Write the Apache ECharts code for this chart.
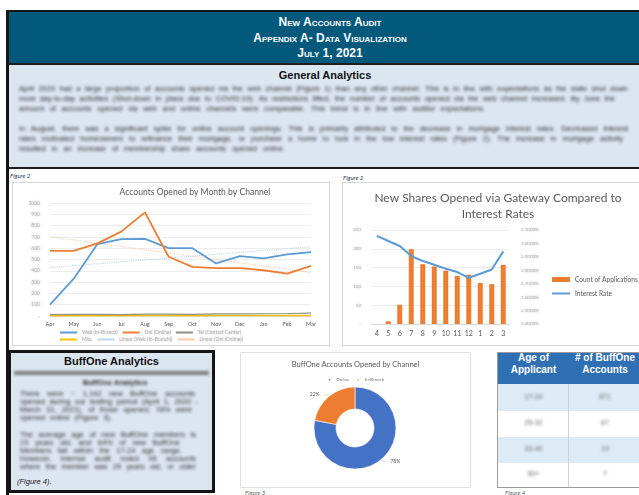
<!DOCTYPE html>
<html><head><meta charset="utf-8">
<script src="https://cdn.jsdelivr.net/npm/echarts@6/dist/echarts.min.js"></script>
<style>
html,body{margin:0;padding:0;background:#fff;width:639px;height:495px;overflow:hidden;font-family:"Liberation Sans",Arial,sans-serif;}
.a{position:absolute;}
.hdr{left:9px;width:642px;text-align:center;color:#fff;font-weight:bold;font-size:12px;font-variant:small-caps;line-height:13px;}
.blur{filter:blur(1.5px);color:#2a2a2a;font-size:7.5px;line-height:8px;text-align:justify;text-align-last:justify;overflow:hidden;white-space:nowrap;}
.blurL{filter:blur(1.5px);color:#2a2a2a;font-size:7.5px;line-height:8px;white-space:nowrap;overflow:hidden;}
.fig{font-style:italic;font-size:6px;color:#2b3550;font-family:"Lato",sans-serif;}
.box{border:1.5px solid #d6d6d6;box-sizing:border-box;background:#fff;}
</style></head><body>
<div class="a" style="left:6px;top:10px;width:633px;height:2px;background:#151515"></div>
<div class="a" style="left:6px;top:10px;width:3px;height:485px;background:#151515"></div>
<div class="a" style="left:9px;top:12px;width:630px;height:51px;background:#02597C"></div>
<div class="a hdr" style="top:16px">New Accounts Audit</div>
<div class="a hdr" style="top:32px">Appendix A- Data Visualization</div>
<div class="a hdr" style="top:47px">July 1, 2021</div>
<div class="a" style="left:9px;top:63px;width:630px;height:2px;background:#1e1e1e"></div>
<div class="a" style="left:9px;top:65px;width:630px;height:102px;background:#DCE6F1"></div>
<div class="a" style="left:9px;top:167px;width:630px;height:2px;background:#1e1e1e"></div>
<div class="a" style="left:9px;top:69px;width:632px;text-align:center;font-weight:bold;font-size:11px;color:#111">General Analytics</div>
<div class="a blur" style="left:19px;top:85px;width:609px">April 2020 had a large proportion of accounts opened via the web channel (Figure 1) than any other channel. This is in line with expectations as the state shut down</div>
<div class="a blur" style="left:19px;top:95px;width:596px">most day-to-day activities (Shut-down in place due to COVID-19). As restrictions lifted, the number of accounts opened via the web channel increased. By June the</div>
<div class="a blur" style="left:19px;top:105px;width:466px">amount of accounts opened via web and online channels were comparable. This trend is in line with auditor expectations.</div>
<div class="a blur" style="left:19px;top:125px;width:609px">In August, there was a significant spike for online account openings. This is primarily attributed to the decrease in mortgage interest rates. Decreased interest</div>
<div class="a blur" style="left:19px;top:135px;width:604px">rates motivated homeowners to refinance their mortgage, or purchase a home to lock in the low interest rates (Figure 2). The increase in mortgage activity</div>
<div class="a blur" style="left:19px;top:145px;width:266px">resulted in an increase of membership share accounts opened online.</div>

<div class="a fig" style="left:10px;top:172px">Figure 2</div>
<div class="a fig" style="left:343px;top:174px">Figure 2</div>
<div class="a box" style="left:12px;top:182px;width:318px;height:164px"></div>
<div class="a box" style="left:342px;top:182px;width:300px;height:164px"></div>
<div id="c1" class="a" style="left:12px;top:182px;width:318px;height:164px"></div>
<div id="c2" class="a" style="left:342px;top:182px;width:297px;height:164px"></div>

<div class="a" style="left:8px;top:350px;width:207px;height:143px;box-sizing:border-box;border:3px solid #151515;background:#DCE6F1"></div>
<div class="a" style="left:8px;top:355px;width:207px;text-align:center;font-weight:bold;font-size:11px;color:#111">BuffOne Analytics</div>
<div class="a" style="left:14px;top:371px;width:195px;height:4px;background:#7a7a7a;filter:blur(1.4px)"></div>
<div class="a blurL" style="left:55px;top:379px;width:120px;font-weight:bold;text-align:center">BuffOne Analytics</div>
<div class="a blur" style="left:20px;top:390px;width:175px">There were ~ 1,142 new BuffOne accounts</div>
<div class="a blur" style="left:20px;top:398px;width:178px">opened during our testing period (April 1, 2020 -</div>
<div class="a blur" style="left:20px;top:406px;width:172px">March 31, 2021), of those opened, 78% were</div>
<div class="a blur" style="left:20px;top:414px;width:92px">opened online (Figure 3).</div>
<div class="a blur" style="left:20px;top:431px;width:176px">The average age of new BuffOne members is</div>
<div class="a blur" style="left:20px;top:439px;width:160px">23 years old, and 64% of new BuffOne</div>
<div class="a blur" style="left:20px;top:447px;width:162px">Members fall within the 17-24 age range.</div>
<div class="a blur" style="left:20px;top:455px;width:176px">However, internal audit noted 45 accounts</div>
<div class="a blur" style="left:20px;top:463px;width:176px">where the member was 25 years old, or older</div>
<div class="a" style="left:17px;top:477px;font-size:7.5px;color:#222"><i>(Figure 4)</i>.</div>

<div class="a" style="left:240px;top:352px;width:231px;height:136px;border:1px solid #e2e2e2;box-sizing:border-box"></div>
<div id="c3" class="a" style="left:240px;top:352px;width:231px;height:136px"></div>
<div class="a fig" style="left:245px;top:489px;color:#666">Figure 3</div>

<div class="a" style="left:497px;top:352px;width:150px;height:136px;border:1px solid #9a9a9a;box-sizing:border-box;overflow:hidden">
  <div class="a" style="left:0;top:0;width:150px;height:31px;background:#2F6FB3"></div>
  <div class="a" style="left:0;top:-1px;width:71px;text-align:center;color:#fff;font-weight:bold;font-size:10px;line-height:12px">Age of<br>Applicant</div>
  <div class="a" style="left:71px;top:-1px;width:72px;text-align:center;color:#fff;font-weight:bold;font-size:10px;line-height:12px"># of BuffOne<br>Accounts</div>
  <div class="a" style="left:0;top:31px;width:150px;height:27px;background:#DDEBF7"></div>
  <div class="a" style="left:0;top:84px;width:150px;height:26px;background:#DDEBF7"></div>
  <div class="a" style="left:70px;top:31px;width:1px;height:105px;background:#c9d3de"></div>
  <div class="a blurL" id="tbl" style="left:0;top:0;width:150px;height:136px;color:#666;font-size:7px"></div>
</div>
<div class="a fig" style="left:505px;top:489px;color:#666">Figure 4</div>

<script>
// ---- Chart 1 data ----
const months = ['Apr','May','Jun','Jul','Aug','Sep','Oct','Nov','Dec','Jan','Feb','Mar'];
const webInBranch = [100,330,637,680,682,600,600,465,530,510,545,565];
const onlOnline = [577,577,643,747,917,524,435,423,423,405,375,443];
const telContact = [12,14,15,13,17,16,14,18,19,20,22,26];
const miscChannel = [3,3,4,3,4,4,3,4,4,4,5,5];
const trendWeb = [429,null,null,null,null,null,null,null,null,null,null,613];
const trendOnl = [702,null,null,null,null,null,null,null,null,null,null,384];
const seriesNames1 = ['Web (In-Branch)','Onl (Online)','Tel (Contact Center)','Misc','Linear (Web (In-Branch))','Linear (Onl (Online))'];
// ---- Chart 2 data ----
const monthNums = ['4','5','6','7','8','9','10','11','12','1','2','3'];
const applications = [0,7,51,199,159,153,142,128,131,109,106,157];
const interestRate = [3.056,3.018,2.981,2.906,2.869,2.841,2.811,2.787,2.744,2.774,2.806,2.941];
// ---- Chart 3 data ----
const channels = ['Online','In-Branch'];
const channelCounts = [78,22];
// ---- Table data ----
const ageGroups = ['17-24','25-32','33-40','50+'];
const ageCounts = ['871','67','19','7'];

const tbl = document.getElementById('tbl');
const rowTops=[40,66,92,117];
ageGroups.forEach((g,i)=>{
  tbl.insertAdjacentHTML('beforeend','<div class="a" style="left:0;width:71px;text-align:center;top:'+rowTops[i]+'px">'+g+'</div><div class="a" style="left:71px;width:72px;text-align:center;top:'+rowTops[i]+'px">'+ageCounts[i]+'</div>');
});

const FF = 'Lato, "Open Sans", sans-serif';
const blurTxt = {color:'#b4b4b4', textShadowColor:'#b4b4b4', textShadowBlur:3};

const c1 = echarts.init(document.getElementById('c1'));
const lineS = (name,data,color,w,extra)=>Object.assign({name,type:'line',data,symbol:'none',showSymbol:false,
  lineStyle:{color,width:w},itemStyle:{color}},extra||{});
const legTxt1 = Object.assign({fontSize:5,width:63,overflow:'truncate',fontFamily:FF},blurTxt);
c1.setOption({
  animation:false,
  textStyle:{fontFamily:FF},
  title:{text:'Accounts Opened by Month by Channel',left:178,textAlign:'center',top:1,
    textStyle:{fontSize:8.6,fontWeight:'normal',color:'#595959',fontFamily:FF}},
  grid:{left:38,right:19,top:21,bottom:30},
  xAxis:{type:'category',data:months,boundaryGap:false,
    axisLine:{lineStyle:{color:'#d9d9d9'}},axisTick:{show:false},
    axisLabel:{fontSize:5.5,color:'#595959',margin:5,fontFamily:FF}},
  yAxis:{type:'value',min:0,max:1000,interval:100,
    axisLine:{show:false},axisTick:{show:false},
    splitLine:{lineStyle:{color:'#e8e8e8',width:0.8}},
    axisLabel:Object.assign({fontSize:5,margin:10,fontFamily:FF,formatter:v=>v===0?'-':String(v)},blurTxt)},
  legend:[
    {data:seriesNames1.slice(0,3),icon:'rect',left:43,top:143,itemWidth:17,itemHeight:2,itemGap:5,textStyle:legTxt1},
    {data:seriesNames1.slice(3),icon:'rect',left:43,top:150,itemWidth:17,itemHeight:2,itemGap:5,textStyle:legTxt1}
  ],
  series:[
    lineS(seriesNames1[3],miscChannel,'#FFC000',1.6),
    lineS(seriesNames1[2],telContact,'#8f8f86',1.2),
    lineS(seriesNames1[4],trendWeb,'#BDD7EE',1.1,{connectNulls:true,lineStyle:{color:'#BDD7EE',width:1.1,type:'dotted'}}),
    lineS(seriesNames1[5],trendOnl,'#F8CBAD',1.1,{connectNulls:true,lineStyle:{color:'#F8CBAD',width:1.1,type:'dotted'}}),
    lineS(seriesNames1[0],webInBranch,'#5B9BD5',1.8),
    lineS(seriesNames1[1],onlOnline,'#ED7D31',1.8)
  ]
});

const c2 = echarts.init(document.getElementById('c2'));
const legTxt2 = {fontSize:6.6,color:'#595959',fontFamily:FF};
c2.setOption({
  animation:false,
  textStyle:{fontFamily:FF},
  title:{text:'New Shares Opened via Gateway Compared to\nInterest Rates',left:151,textAlign:'center',top:3,
    textStyle:{fontSize:12,fontWeight:'normal',color:'#595959',fontFamily:FF,lineHeight:16}},
  grid:{left:29,right:130,top:48,bottom:22},
  legend:[
    {data:['Count of Applications'],icon:'rect',left:205,top:89,itemWidth:18,itemHeight:5,textStyle:legTxt2},
    {data:['Interest Rate'],icon:'rect',left:205,top:103,itemWidth:18,itemHeight:2,textStyle:legTxt2}
  ],
  xAxis:{type:'category',data:monthNums,
    axisLine:{lineStyle:{color:'#d9d9d9'}},axisTick:{show:false},
    axisLabel:{fontSize:7,color:'#595959',margin:6,fontFamily:FF,interval:0}},
  yAxis:[
    {type:'value',min:0,max:250,interval:50,axisLine:{show:false},axisTick:{show:false},
      splitLine:{lineStyle:{color:'#e6e6e6',width:0.8}},
      axisLabel:Object.assign({fontSize:4.5,margin:10,fontFamily:FF,formatter:v=>v===0?'-':String(v)},blurTxt)},
    {type:'value',min:2.4,max:3.1,interval:0.1,axisLine:{show:false},axisTick:{show:false},splitLine:{show:false},
      axisLabel:Object.assign({fontSize:4.5,margin:12,fontFamily:FF,formatter:v=>v.toFixed(4)+'%'},blurTxt)}
  ],
  series:[
    {name:'Count of Applications',type:'bar',data:applications,barWidth:5,itemStyle:{color:'#ED7D31'}},
    {name:'Interest Rate',type:'line',yAxisIndex:1,data:interestRate,symbol:'none',showSymbol:false,
      lineStyle:{color:'#5B9BD5',width:2},itemStyle:{color:'#5B9BD5'}}
  ]
});

const c3 = echarts.init(document.getElementById('c3'));
c3.setOption({
  animation:false,
  title:{text:'BuffOne Accounts Opened by Channel',left:'center',top:4,
    textStyle:{fontSize:7.5,fontWeight:'normal',color:'#595959',fontFamily:FF}},
  legend:{top:20,left:'center',icon:'circle',itemWidth:3.5,itemHeight:3.5,itemGap:6,
    data:channels,textStyle:{fontSize:4.5,color:'#777',fontFamily:FF}},
  color:['#4472C4','#ED7D31'],
  series:[{type:'pie',radius:[19,41],center:[115,76],startAngle:90,clockwise:true,
    data:channels.map((n,i)=>({name:n,value:channelCounts[i]})),
    itemStyle:{borderColor:'#fff',borderWidth:0.6},
    label:{show:true,formatter:'{d}%',fontSize:5,color:'#595959',fontFamily:FF},
    labelLine:{show:true,length:2,length2:3,lineStyle:{color:'#bfbfbf',width:0.6}}
  }]
});
</script>
</body></html>
